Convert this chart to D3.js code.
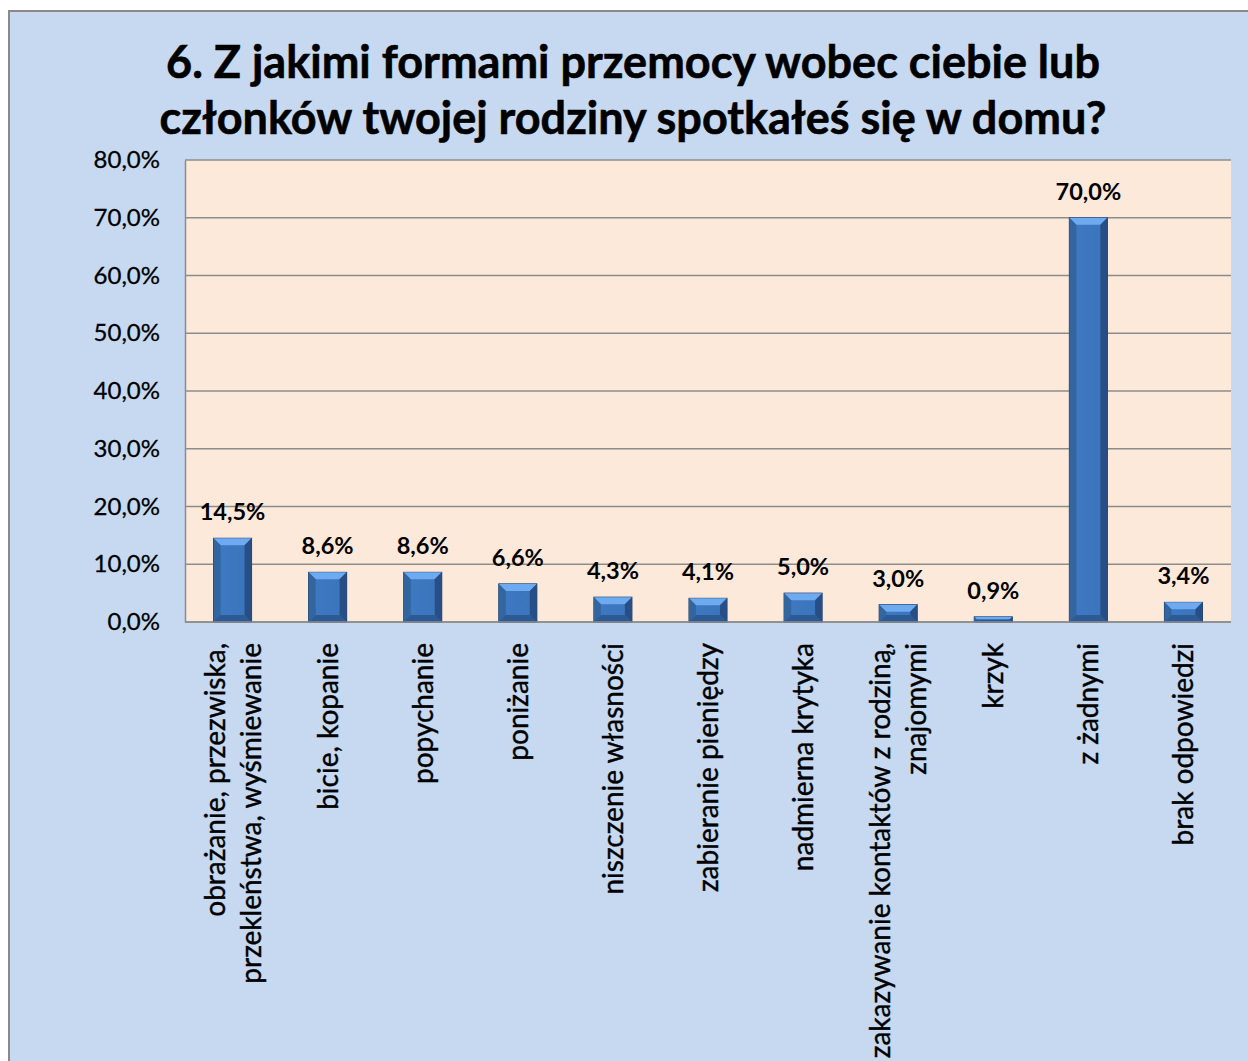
<!DOCTYPE html>
<html>
<head>
<meta charset="utf-8">
<script src="https://cdn.jsdelivr.net/npm/d3@7"></script>
<style>
  body { margin: 0; background: #ffffff; }
  svg { display: block; font-family: Lato, "Open Sans", sans-serif; }
</style>
</head>
<body>
<svg id="chart"></svg>
<script>
let titleLines = ['6. Z jakimi formami przemocy wobec ciebie lub', 'członków twojej rodziny spotkałeś się w domu?']
let categories = [
   ['obrażanie, przezwiska,', 'przekleństwa, wyśmiewanie'],
   ['bicie, kopanie'],
   ['popychanie'],
   ['poniżanie'],
   ['niszczenie własności'],
   ['zabieranie pieniędzy'],
   ['nadmierna krytyka'],
   ['zakazywanie kontaktów z rodziną,', 'znajomymi'],
   ['krzyk'],
   ['z żadnymi'],
   ['brak odpowiedzi']
]
let values = [14.5, 8.6, 8.6, 6.6, 4.3, 4.1, 5.0, 3.0, 0.9, 70.0, 3.4]
let yTicks = [0, 10, 20, 30, 40, 50, 60, 70, 80]

let w = 1248
let h = 1061
let plot = {left: 185, right: 1231, top: 160, bottom: 622}

let svg = d3.select('#chart').attr('width', w).attr('height', h)

let fmt = (v) => v.toFixed(1).replace('.', ',') + '%'

// background + frame
svg.append('rect')
   .attr('x', 9).attr('y', 11)
   .attr('width', w + 20).attr('height', h + 20)
   .attr('fill', '#c6d9f1')
   .attr('stroke', '#8a8a8a')
   .attr('stroke-width', 2)

// title
svg.append('text')
   .attr('x', 633)
   .attr('y', 78)
   .attr('text-anchor', 'middle')
   .attr('font-size', 45)
   .attr('font-weight', 'bold')
   .attr('fill', '#000')
   .attr('stroke', '#000')
   .attr('stroke-width', 0.6)
   .selectAll('tspan')
   .data(titleLines)
   .enter()
   .append('tspan')
   .attr('x', 633)
   .attr('dy', (d, i) => i == 0 ? 0 : 56)
   .text(d => d)

let xScale = d3.scaleBand()
   .domain(d3.range(categories.length))
   .range([plot.left, plot.right])
   .paddingInner(0.6)
   .paddingOuter(0.3)

let yScale = d3.scaleLinear()
   .domain([0, 80])
   .range([plot.bottom, plot.top])

// plot area
svg.append('rect')
   .attr('x', plot.left).attr('y', plot.top)
   .attr('width', plot.right - plot.left)
   .attr('height', plot.bottom - plot.top)
   .attr('fill', '#fde9d9')

// gridlines
svg.append('g')
   .selectAll('line')
   .data(yTicks)
   .enter()
   .append('line')
   .attr('x1', plot.left).attr('x2', plot.right)
   .attr('y1', d => yScale(d)).attr('y2', d => yScale(d))
   .attr('stroke', '#8c8c8c')
   .attr('stroke-width', 1.5)

// y axis
let yAxis = d3.axisLeft(yScale)
   .tickValues(yTicks)
   .tickFormat(fmt)
   .tickSize(0)
   .tickPadding(25)

let yg = svg.append('g')
   .attr('transform', 'translate(' + plot.left + ',0)')
   .call(yAxis)
yg.select('.domain').attr('stroke', '#8c8c8c').attr('stroke-width', 1.5)
yg.selectAll('text')
   .attr('font-family', 'Lato, sans-serif')
   .attr('font-size', 24)
   .attr('fill', '#000')
   .attr('stroke', '#000')
   .attr('stroke-width', 0.3)

// bars with bevel
let defs = svg.append('defs')
let grad = defs.append('linearGradient').attr('id', 'face').attr('x1', 0).attr('x2', 1).attr('y1', 0).attr('y2', 0)
grad.append('stop').attr('offset', '0%').attr('stop-color', '#2f5f9c')
grad.append('stop').attr('offset', '20%').attr('stop-color', '#3d78c0')
grad.append('stop').attr('offset', '80%').attr('stop-color', '#3b75bc')
grad.append('stop').attr('offset', '100%').attr('stop-color', '#2a548c')

let bev = 7
let bars = svg.append('g')
   .selectAll('g')
   .data(values)
   .enter()
   .append('g')

bars.each(function (v, i) {
   let g = d3.select(this)
   let x0 = xScale(i)
   let bw = xScale.bandwidth()
   let y0 = yScale(v)
   let y1 = yScale(0)
   let b = Math.min(bev, (y1 - y0) / 2)
   g.append('rect')
      .attr('x', x0).attr('y', y0)
      .attr('width', bw).attr('height', y1 - y0)
      .attr('fill', 'url(#face)')
      .attr('stroke', '#1f3f6a')
      .attr('stroke-width', 1)
   // top bevel
   g.append('polygon')
      .attr('points', [[x0, y0], [x0 + bw, y0], [x0 + bw - b, y0 + b], [x0 + b, y0 + b]].join(' '))
      .attr('fill', '#6eaaf0')
   // left bevel
   g.append('polygon')
      .attr('points', [[x0, y0], [x0 + b, y0 + b], [x0 + b, y1 - b], [x0, y1]].join(' '))
      .attr('fill', '#33669f')
   // right bevel
   g.append('polygon')
      .attr('points', [[x0 + bw, y0], [x0 + bw - b, y0 + b], [x0 + bw - b, y1 - b], [x0 + bw, y1]].join(' '))
      .attr('fill', '#284f85')
   // bottom bevel
   g.append('polygon')
      .attr('points', [[x0, y1], [x0 + b, y1 - b], [x0 + bw - b, y1 - b], [x0 + bw, y1]].join(' '))
      .attr('fill', '#2d5a94')
})

// value labels
svg.append('g')
   .selectAll('text')
   .data(values)
   .enter()
   .append('text')
   .attr('x', (d, i) => xScale(i) + xScale.bandwidth() / 2)
   .attr('y', d => yScale(d) - 18)
   .attr('text-anchor', 'middle')
   .attr('font-size', 23.5)
   .attr('font-weight', 'bold')
   .attr('fill', '#000')
   .text(d => fmt(d))

// bottom axis line
svg.append('line')
   .attr('x1', plot.left).attr('x2', plot.right)
   .attr('y1', plot.bottom).attr('y2', plot.bottom)
   .attr('stroke', '#8c8c8c')
   .attr('stroke-width', 1.5)

// category labels, rotated
let lineH = 36
svg.append('g')
   .selectAll('text')
   .data(categories)
   .enter()
   .append('text')
   .attr('transform', (d, i) => 'translate(' + (xScale(i) + xScale.bandwidth() / 2) + ',643) rotate(-90)')
   .attr('text-anchor', 'end')
   .attr('font-size', 28)
   .attr('fill', '#000')
   .attr('stroke', '#000')
   .attr('stroke-width', 0.4)
   .each(function (lines) {
      let t = d3.select(this)
      let start = 10 - (lines.length - 1) * lineH / 2
      lines.forEach((l, k) => {
         t.append('tspan')
            .attr('x', 0)
            .attr('y', start + k * lineH)
            .text(l)
      })
   })
</script>
</body>
</html>
